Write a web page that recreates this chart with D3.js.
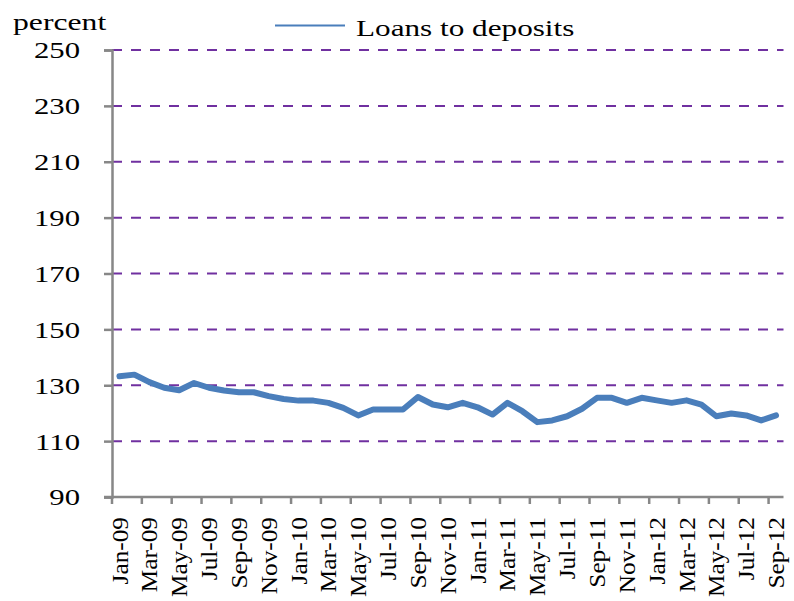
<!DOCTYPE html>
<html>
<head>
<meta charset="utf-8">
<script src="https://cdn.jsdelivr.net/npm/d3@7/dist/d3.min.js"></script>
<style>
  html, body { margin: 0; padding: 0; background: #fff; }
  svg { display: block; }
  text { font-family: "Liberation Serif", "Times New Roman", Times, serif; fill: #000; }
</style>
</head>
<body>
<svg id="chart" width="794" height="601"></svg>
<script>
// Monthly categories, Jan-09 through Sep-12
const months = [
  "Jan-09","Feb-09","Mar-09","Apr-09","May-09","Jun-09","Jul-09","Aug-09","Sep-09","Oct-09","Nov-09","Dec-09",
  "Jan-10","Feb-10","Mar-10","Apr-10","May-10","Jun-10","Jul-10","Aug-10","Sep-10","Oct-10","Nov-10","Dec-10",
  "Jan-11","Feb-11","Mar-11","Apr-11","May-11","Jun-11","Jul-11","Aug-11","Sep-11","Oct-11","Nov-11","Dec-11",
  "Jan-12","Feb-12","Mar-12","Apr-12","May-12","Jun-12","Jul-12","Aug-12","Sep-12"
];

// Loans to deposits ratio, percent
const loansToDeposits = [
  133.2, 133.8, 131.1, 129.1, 128.2, 130.8, 129.1, 128.1, 127.5, 127.5, 126.1, 125.1,
  124.5, 124.5, 123.7, 121.9, 119.2, 121.3, 121.3, 121.3, 125.8, 123.1, 122.1, 123.7,
  122.1, 119.5, 123.7, 120.7, 116.8, 117.4, 118.9, 121.6, 125.5, 125.5, 123.7, 125.5,
  124.6, 123.7, 124.6, 123.1, 118.9, 119.9, 119.2, 117.4, 119.2
];

const yTicks = [90, 110, 130, 150, 170, 190, 210, 230, 250];
const seriesName = "Loans to deposits";
const yUnit = "percent";

const svg = d3.select("#chart");
const plotLeft = 112, plotRight = 783.5, plotTop = 50, plotBottom = 497;

const x = d3.scaleBand().domain(months).range([plotLeft, plotRight]).paddingInner(0).paddingOuter(0);
const y = d3.scaleLinear().domain([90, 250]).range([plotBottom, plotTop]);

const axisGrey = "#878787";
const gridPurple = "#7030A0";
const lineBlue = "#4A7EBB";
const stretch = 1.28;

// Horizontal dashed gridlines (skip the baseline, which is the x axis)
svg.append("g")
  .selectAll("line")
  .data(yTicks.filter(v => v !== 90))
  .join("line")
  .attr("x1", plotLeft).attr("x2", plotRight)
  .attr("y1", d => y(d)).attr("y2", d => y(d))
  .attr("stroke", gridPurple)
  .attr("stroke-width", 2)
  .attr("stroke-dasharray", "10,9");

// Y axis
const yAxis = svg.append("g")
  .attr("transform", `translate(${plotLeft},0)`)
  .call(d3.axisLeft(y).tickValues(yTicks).tickSize(8).tickPadding(0).tickFormat(d3.format("d")));
yAxis.select(".domain").attr("stroke", axisGrey).attr("stroke-width", 2.5);
yAxis.selectAll(".tick line").attr("stroke", axisGrey).attr("stroke-width", 2.5);
yAxis.selectAll(".tick text").remove();

// Y tick labels, widened along the text direction
svg.append("g")
  .selectAll("text")
  .data(yTicks)
  .join("text")
  .attr("transform", d => `translate(80,${y(d)}) scale(${stretch},1)`)
  .attr("text-anchor", "end")
  .attr("dy", "0.35em")
  .attr("font-size", 24)
  .text(d => d3.format("d")(d));

// X axis line
svg.append("line")
  .attr("x1", plotLeft - 8).attr("x2", plotRight)
  .attr("y1", plotBottom).attr("y2", plotBottom)
  .attr("stroke", axisGrey).attr("stroke-width", 2.5);

// X tick marks at category boundaries, every second month
svg.append("g")
  .selectAll("line")
  .data(months.filter((m, i) => i % 2 === 0))
  .join("line")
  .attr("x1", d => x(d)).attr("x2", d => x(d))
  .attr("y1", plotBottom).attr("y2", plotBottom + 7)
  .attr("stroke", axisGrey).attr("stroke-width", 2.5);

// X tick labels, rotated, centred on their categories
svg.append("g")
  .selectAll("text")
  .data(months.filter((m, i) => i % 2 === 0))
  .join("text")
  .attr("transform", d => `translate(${x(d) + x.bandwidth() / 2},517) rotate(-90) scale(1.1,1)`)
  .attr("text-anchor", "end")
  .attr("dy", "0.35em")
  .attr("font-size", 23)
  .text(d => d);

// Series line
const line = d3.line()
  .x((d, i) => x(months[i]) + x.bandwidth() / 2)
  .y(d => y(d));

svg.append("path")
  .datum(loansToDeposits)
  .attr("d", line)
  .attr("fill", "none")
  .attr("stroke", lineBlue)
  .attr("stroke-width", 6)
  .attr("stroke-linejoin", "round")
  .attr("stroke-linecap", "round");

// Unit label
svg.append("text")
  .attr("transform", `translate(13,30) scale(1.32,1)`)
  .attr("font-size", 24)
  .text(yUnit);

// Legend
svg.append("line")
  .attr("x1", 275).attr("x2", 345)
  .attr("y1", 25.5).attr("y2", 25.5)
  .attr("stroke", lineBlue).attr("stroke-width", 2.2);
svg.append("text")
  .attr("transform", `translate(356,35.5) scale(1.3,1)`)
  .attr("font-size", 24)
  .text(seriesName);
</script>
</body>
</html>
